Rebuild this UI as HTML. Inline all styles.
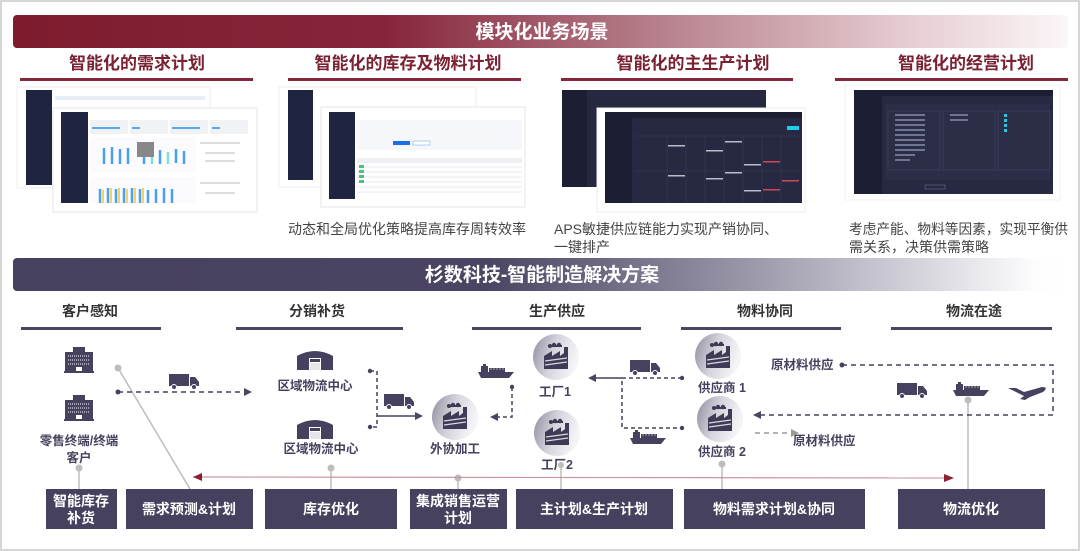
<!DOCTYPE html>
<html><head><meta charset="utf-8">
<style>
html,body{margin:0;padding:0;background:#fff;}
body{width:1080px;height:551px;overflow:hidden;position:relative;font-family:"Liberation Sans","Noto Sans CJK SC",sans-serif;}
svg{position:absolute;left:0;top:0;}
</style></head><body>
<svg width="1080" height="551" viewBox="0 0 1080 551" xmlns="http://www.w3.org/2000/svg" font-family="Liberation Sans, Noto Sans CJK SC, sans-serif">
<defs>
<linearGradient id="gr1" x1="0" x2="1" y1="0" y2="0">
<stop offset="0" stop-color="#7e1c2e"/><stop offset="0.35" stop-color="#86243a"/><stop offset="0.6" stop-color="#b47c88"/><stop offset="0.85" stop-color="#e6cdd2"/><stop offset="1" stop-color="#fbf6f7"/>
</linearGradient>
<linearGradient id="gr2" x1="0" x2="1" y1="0" y2="0">
<stop offset="0" stop-color="#46415e"/><stop offset="0.45" stop-color="#4a4562"/><stop offset="0.7" stop-color="#9b98aa"/><stop offset="0.97" stop-color="#fdfdfe"/><stop offset="1" stop-color="#ffffff"/>
</linearGradient>
<linearGradient id="cg" x1="0" x2="1" y1="0" y2="0.3">
<stop offset="0" stop-color="#8f8c9e"/><stop offset="0.5" stop-color="#d4d3dc"/><stop offset="1" stop-color="#f4f4f7"/>
</linearGradient>
<marker id="ah" markerWidth="8" markerHeight="8" refX="6" refY="4" orient="auto" markerUnits="userSpaceOnUse"><path d="M0,0 L8,4 L0,8 Z" fill="#4a4662"/></marker>
<marker id="ahg" markerWidth="8" markerHeight="8" refX="6" refY="4" orient="auto" markerUnits="userSpaceOnUse"><path d="M0,0 L8,4 L0,8 Z" fill="#9a9a9a"/></marker>
<marker id="ahr" markerWidth="10" markerHeight="8" refX="8" refY="4" orient="auto" markerUnits="userSpaceOnUse"><path d="M0,0 L10,4 L0,8 Z" fill="#8c1f30"/></marker>
<g id="fac">
<circle r="23" fill="url(#cg)"/>
<path d="M-12,12 L-12,-1 L-4,-6 L-4,-1 L4,-6 L4,-1 L8,-4 L8,-10 L12,-10 L12,12 Z" fill="#3f3b57"/>
<path d="M-11,4 L11,1" stroke="#d9d9e0" stroke-width="1.2"/>
<path d="M-11,8 L11,5" stroke="#d9d9e0" stroke-width="1.2"/>
<circle cx="-6" cy="-11" r="2" fill="#3f3b57"/><circle cx="-2" cy="-12" r="2.2" fill="#3f3b57"/><circle cx="3" cy="-12" r="2.2" fill="#3f3b57"/><rect x="-8" y="-12" width="14" height="2" fill="#3f3b57"/>
</g>
<g id="truck"><rect x="0" y="0" width="20" height="12" fill="#46415e"/><path d="M21,3 L26,3 L30,8 L30,12 L21,12Z" fill="#46415e"/><circle cx="5" cy="13" r="2.5" fill="#46415e" stroke="#fff"/><circle cx="25" cy="13" r="2.5" fill="#46415e" stroke="#fff"/></g>
<g id="ship"><path d="M0,8 L36,8 L31,14 L3,14Z" fill="#46415e"/><rect x="3" y="2" width="7" height="6" fill="#46415e"/><rect x="11" y="4" width="16" height="4" fill="#46415e"/><rect x="5" y="0" width="3" height="2" fill="#46415e"/><path d="M12,5 h14" stroke="#fff" stroke-width="0.6" stroke-dasharray="2 1"/></g>
<g id="bld"><rect x="0" y="5" width="28" height="20" fill="#46415e"/><rect x="8" y="0" width="12" height="25" fill="#46415e"/><path d="M3,9 h22 M3,13 h22 M3,17 h22" stroke="#fff" stroke-width="1" stroke-dasharray="1 1"/><rect x="11" y="20" width="6" height="5" fill="#fff"/><rect x="-1" y="24" width="30" height="2" fill="#46415e"/></g>
<g id="wh"><path d="M0,6 Q18,-4 36,6 L36,20 L0,20Z" fill="#46415e"/><rect x="12" y="8" width="12" height="12" fill="#fff"/><rect x="13" y="9" width="10" height="3" fill="#46415e"/><rect x="13" y="13" width="10" height="7" fill="#e5e5ea"/></g>
</defs>

<rect x="1" y="1" width="1078" height="549" fill="#fff" stroke="#d6d6d6" stroke-width="2"/>

<!-- top banner -->
<rect x="13" y="15" width="1055" height="33" rx="4" fill="url(#gr1)"/>
<text x="542" y="38" font-size="19" font-weight="bold" fill="#fff" text-anchor="middle">模块化业务场景</text>

<g font-size="17" font-weight="bold" fill="#7a2232" text-anchor="middle">
<text x="137" y="69">智能化的需求计划</text>
<text x="408" y="69">智能化的库存及物料计划</text>
<text x="693" y="69">智能化的主生产计划</text>
<text x="966" y="69">智能化的经营计划</text>
</g>
<g fill="#86263a">
<rect x="20" y="78" width="233" height="3"/>
<rect x="288" y="78" width="233" height="3"/>
<rect x="561" y="78" width="232" height="3"/>
<rect x="835" y="78" width="233" height="3"/>
</g>

<!-- screenshot col1 -->
<rect x="17" y="87" width="193" height="101" fill="#fff" stroke="#eee"/>
<rect x="26" y="90" width="26" height="95" fill="#1f2540"/>
<rect x="55" y="96" width="150" height="4" fill="#e8eef8"/>
<rect x="53" y="108" width="204" height="104" fill="#fff" stroke="#e6e6e6"/>
<rect x="61" y="112" width="27" height="91" fill="#1f2540"/>
<g fill="#f0f2f6"><rect x="90" y="120" width="38" height="14"/><rect x="130" y="120" width="38" height="14"/><rect x="170" y="120" width="38" height="14"/><rect x="210" y="120" width="38" height="14"/></g>
<g fill="#5aa8f0"><rect x="92" y="127" width="28" height="2"/><rect x="132" y="127" width="8" height="2"/><rect x="172" y="127" width="28" height="2"/><rect x="212" y="127" width="8" height="2"/></g>
<rect x="90" y="137" width="106" height="36" fill="#fbfbfd"/>
<rect x="90" y="177" width="106" height="26" fill="#fbfbfd"/>
<g stroke="#4aa0ee" stroke-width="2.5"><path d="M104,148v16 M112,147v17 M120,149v15 M128,148v16 M144,149v15 M160,150v14 M176,149v14 M184,151v13 M100,189v14 M108,188v15 M116,189v14 M124,188v15 M132,188v15 M140,189v14 M148,190v13 M156,189v14 M164,188v15 M172,189v14"/></g>
<g stroke="#7fe0d0" stroke-width="2.5"><path d="M152,148v16 M168,152v12"/></g>
<g stroke="#f2d070" stroke-width="2"><path d="M103,190v13 M111,188v15 M119,188v15 M127,189v14 M135,188v15 M143,188v15"/></g>
<rect x="137" y="142" width="17" height="15" fill="#888"/>
<g fill="#ddd"><rect x="200" y="142" width="40" height="2"/><rect x="205" y="152" width="30" height="2"/><rect x="205" y="160" width="30" height="2"/><rect x="200" y="182" width="40" height="2"/><rect x="205" y="192" width="30" height="2"/></g>

<!-- screenshot col2 -->
<rect x="279" y="87" width="197" height="100" fill="#fff" stroke="#eee"/>
<rect x="288" y="90" width="25" height="90" fill="#1f2540"/>
<rect x="321" y="107" width="204" height="100" fill="#fff" stroke="#e6e6e6"/>
<rect x="329" y="112" width="26" height="87" fill="#1f2540"/>
<rect x="357" y="120" width="165" height="30" fill="#f6f7fa"/>
<rect x="393" y="141" width="17" height="4" fill="#1a6ee8"/>
<rect x="413" y="141" width="17" height="4" fill="#fff" stroke="#6aa0f0" stroke-width="0.5"/>
<g fill="#eef0f4"><rect x="357" y="158" width="165" height="5"/></g>
<g stroke="#e6e8ee" stroke-width="1"><path d="M357,167h165 M357,172h165 M357,177h165 M357,182h165 M357,187h165 M357,192h165"/></g>
<g fill="#4cc080"><rect x="359" y="165" width="5" height="3"/><rect x="359" y="170" width="5" height="3"/><rect x="359" y="175" width="5" height="3"/><rect x="359" y="180" width="5" height="3"/></g>

<!-- screenshot col3 -->
<rect x="553" y="86" width="217" height="105" fill="#fff"/>
<rect x="562" y="90" width="204" height="97" fill="#262840"/>
<rect x="562" y="90" width="25" height="97" fill="#1c1e33"/>
<rect x="597" y="108" width="208" height="104" fill="#fff" stroke="#eee"/>
<rect x="605" y="112" width="197" height="91" fill="#272841"/>
<rect x="605" y="112" width="27" height="91" fill="#1c1e33"/>
<rect x="605" y="112" width="197" height="6" fill="#1c1e33"/>
<rect x="787" y="126" width="12" height="4" fill="#19d0e8"/>
<g stroke="#3a3c58" stroke-width="0.6"><path d="M635,136h165 M635,171h165 M667,136v67 M686,136v67 M705,136v67 M724,136v67 M743,136v67 M762,136v67 M781,136v67"/></g>
<g fill="#bbbbcc"><rect x="668" y="145" width="17" height="1.5"/><rect x="706" y="150" width="17" height="1.5"/><rect x="725" y="141" width="17" height="1.5"/><rect x="744" y="164" width="17" height="1.5"/><rect x="668" y="175" width="17" height="1.5"/><rect x="706" y="178" width="17" height="1.5"/><rect x="725" y="172" width="17" height="1.5"/><rect x="744" y="190" width="17" height="1.5"/></g>
<g fill="#d04858"><rect x="763" y="161" width="17" height="1.5"/><rect x="763" y="189" width="17" height="1.5"/><rect x="782" y="180" width="17" height="1.5"/></g>

<!-- screenshot col4 -->
<rect x="845" y="85" width="215" height="115" fill="#fff" stroke="#f0f0f0"/>
<rect x="854" y="90" width="199" height="104" fill="#272841"/>
<rect x="854" y="90" width="28" height="104" fill="#1c1e33"/>
<rect x="854" y="90" width="199" height="6" fill="#1c1e33"/>
<rect x="885" y="104" width="165" height="76" fill="#2c2e48"/>
<g fill="none" stroke="#3e4060" stroke-width="0.8"><rect x="888" y="111" width="52" height="59"/><rect x="943" y="111" width="52" height="59"/><rect x="998" y="111" width="52" height="59"/></g>
<g stroke="#9aa0c0" stroke-width="1.2"><path d="M895,115h30 M895,120h30 M895,125h30 M895,130h30 M895,135h30 M895,140h30 M895,145h30 M895,150h30 M895,155h20 M895,160h15 M950,115h18 M950,120h18"/></g>
<g fill="#26c6e0"><rect x="1004" y="114" width="3" height="3"/><rect x="1004" y="119" width="3" height="3"/><rect x="1004" y="124" width="3" height="3"/><rect x="1004" y="129" width="3" height="3"/></g>
<rect x="925" y="185" width="20" height="4" fill="none" stroke="#6a7090" stroke-width="0.6"/>

<!-- captions -->
<g font-size="14" fill="#444">
<text x="288" y="234">动态和全局优化策略提高库存周转效率</text>
<text x="554" y="234">APS敏捷供应链能力实现产销协同、</text>
<text x="554" y="252">一键排产</text>
<text x="849" y="234" textLength="219" lengthAdjust="spacingAndGlyphs">考虑产能、物料等因素，实现平衡供</text>
<text x="849" y="252">需关系，决策供需策略</text>
</g>

<!-- second banner -->
<rect x="13" y="258" width="1055" height="33" rx="4" fill="url(#gr2)"/>
<text x="542" y="281" font-size="19" font-weight="bold" fill="#fff" text-anchor="middle">杉数科技-智能制造解决方案</text>

<!-- headers -->
<g font-size="14" font-weight="bold" fill="#333" text-anchor="middle">
<text x="90" y="316">客户感知</text>
<text x="317" y="316">分销补货</text>
<text x="557" y="316">生产供应</text>
<text x="765" y="316">物料协同</text>
<text x="974" y="316">物流在途</text>
</g>
<g fill="#4a4662">
<rect x="21" y="327" width="140" height="3"/>
<rect x="236" y="327" width="167" height="3"/>
<rect x="472" y="327" width="169" height="3"/>
<rect x="681" y="327" width="160" height="3"/>
<rect x="891" y="327" width="161" height="3"/>
</g>

<!-- gray connectors -->
<g stroke="#bdbdbd" stroke-width="1.5" fill="#bdbdbd">
<line x1="79" y1="468" x2="79" y2="489"/><circle cx="79" cy="468" r="3.5" stroke="none"/>
<line x1="118" y1="368" x2="190" y2="489"/><circle cx="118" cy="368" r="3.5" stroke="none"/>
<line x1="331" y1="468" x2="331" y2="489"/><circle cx="331" cy="468" r="3.5" stroke="none"/>
<line x1="458" y1="478" x2="458" y2="489"/><circle cx="458" cy="478" r="3.5" stroke="none"/>
<line x1="561" y1="465" x2="561" y2="489"/><circle cx="561" cy="465" r="3" stroke="none"/>
<line x1="722" y1="464" x2="722" y2="489"/><circle cx="722" cy="464" r="3.5" stroke="none"/>
<line x1="968" y1="400" x2="968" y2="489"/><circle cx="968" cy="400" r="3.5" stroke="none"/>
</g>

<!-- red line -->
<line x1="193" y1="477" x2="952" y2="478" stroke="#c9949c" stroke-width="1.2" marker-end="url(#ahr)"/>
<path d="M193,477 l9,-4 v8 Z" fill="#8c1f30"/>

<!-- icons left -->
<use href="#bld" x="65" y="347"/>
<use href="#bld" x="65" y="395"/>
<g font-size="12.5" font-weight="bold" fill="#46415e" text-anchor="middle">
<text x="79" y="445">零售终端/终端</text>
<text x="79" y="462">客户</text>
</g>
<use href="#truck" x="169" y="374"/>
<circle cx="118" cy="392" r="2.5" fill="#46415e"/>
<line x1="118" y1="392" x2="250" y2="392" stroke="#46415e" stroke-width="1.5" stroke-dasharray="5 4" marker-end="url(#ah)"/>

<use href="#wh" x="297" y="350"/>
<use href="#wh" x="297" y="419"/>
<g font-size="12.5" font-weight="bold" fill="#46415e" text-anchor="middle">
<text x="315" y="390">区域物流中心</text>
<text x="321" y="453">区域物流中心</text>
<text x="455" y="453">外协加工</text>
</g>
<g stroke="#46415e" stroke-width="1.5" fill="none">
<path d="M370,371 H377 V427 H370" stroke-dasharray="4 3"/>
<line x1="377" y1="416" x2="421" y2="416" marker-end="url(#ah)"/>
<path d="M512,387 V417 H492" stroke-dasharray="4 3" marker-end="url(#ah)"/>
</g>
<circle cx="370" cy="371" r="2.2" fill="#46415e"/><circle cx="370" cy="427" r="2.2" fill="#46415e"/><circle cx="512" cy="387" r="2.2" fill="#46415e"/>
<use href="#truck" x="384" y="394"/>
<use href="#fac" x="455" y="417"/>
<use href="#ship" x="478" y="364"/>

<!-- production -->
<use href="#fac" x="556" y="357"/>
<use href="#fac" x="557" y="433"/>
<g font-size="12.5" font-weight="bold" fill="#46415e" text-anchor="middle">
<text x="555" y="396">工厂1</text>
<text x="557" y="469">工厂2</text>
<text x="722" y="392">供应商 1</text>
<text x="722" y="456">供应商 2</text>
</g>
<g stroke="#46415e" stroke-width="1.5" fill="none">
<line x1="622" y1="378" x2="590" y2="378" marker-end="url(#ah)"/>
<path d="M682,378 H622 V428 H682" stroke-dasharray="4 3"/>
</g>
<circle cx="682" cy="378" r="2.2" fill="#46415e"/><circle cx="682" cy="428" r="2.2" fill="#46415e"/>
<use href="#truck" x="630" y="360"/>
<use href="#ship" x="630" y="430"/>

<use href="#fac" x="718" y="356"/>
<use href="#fac" x="720" y="419"/>

<!-- logistics -->
<g font-size="12.5" font-weight="bold" fill="#46415e">
<text x="771" y="369">原材料供应</text>
<text x="793" y="445">原材料供应</text>
</g>
<circle cx="842" cy="365" r="2.5" fill="#46415e"/>
<path d="M842,365 H1053 V415 H755" fill="none" stroke="#46415e" stroke-width="1.5" stroke-dasharray="5 4" marker-end="url(#ah)"/>
<line x1="755" y1="433" x2="797" y2="433" stroke="#9a9a9a" stroke-width="1.5" stroke-dasharray="5 4" marker-end="url(#ahg)"/>
<use href="#truck" x="897" y="383"/>
<use href="#ship" x="953" y="382"/>
<path d="M1008,388 L1016,388 L1024,392 L1042,387 Q1049,387 1043,392 L1030,397 L1025,400 L1020,399 L1024,396 Z" fill="#46415e"/>

<!-- bottom boxes -->
<g fill="#46415e">
<rect x="46" y="489" width="71" height="40"/>
<rect x="126" y="489" width="127" height="40"/>
<rect x="265" y="489" width="132" height="40"/>
<rect x="410" y="489" width="97" height="40"/>
<rect x="516" y="489" width="157" height="40"/>
<rect x="684" y="489" width="181" height="40"/>
<rect x="898" y="489" width="147" height="40"/>
</g>
<g font-size="14" font-weight="bold" fill="#fff" text-anchor="middle">
<text x="81" y="506">智能库存</text><text x="81" y="523">补货</text>
<text x="189" y="514">需求预测&amp;计划</text>
<text x="331" y="514">库存优化</text>
<text x="458" y="506">集成销售运营</text><text x="458" y="523">计划</text>
<text x="594" y="514">主计划&amp;生产计划</text>
<text x="774" y="514">物料需求计划&amp;协同</text>
<text x="971" y="514">物流优化</text>
</g>
</svg>
</body></html>
